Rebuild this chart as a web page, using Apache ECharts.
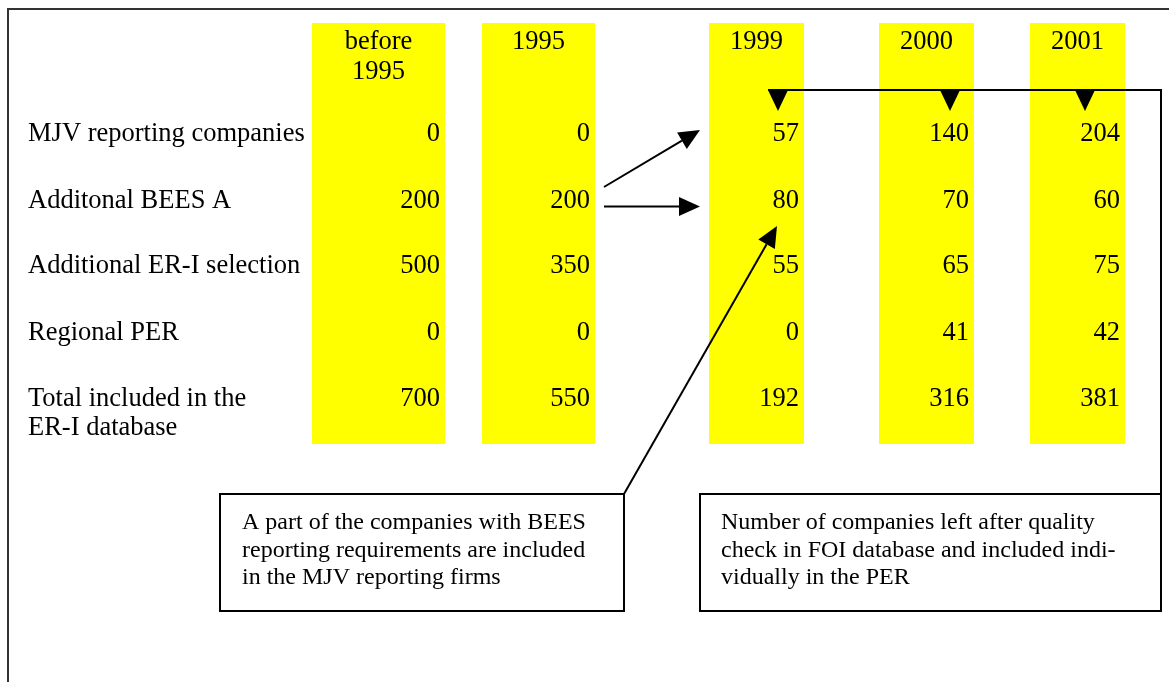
<!DOCTYPE html>
<html>
<head>
<meta charset="utf-8">
<script src="https://cdn.jsdelivr.net/npm/echarts@6/dist/echarts.min.js"></script>
<style>
html,body{margin:0;padding:0;background:#fff;}
#chart{width:1169px;height:682px;}
</style>
</head>
<body>
<div id="chart"></div>
<script>
// ---- data ----
const columns = ['before\n1995', '1995', '1999', '2000', '2001'];
const rowLabels = ['MJV reporting companies', 'Additonal BEES A', 'Additional ER-I selection', 'Regional PER', 'Total included in the\nER-I database'];
const mjvReporting = [0, 0, 57, 140, 204];
const additionalBeesA = [200, 200, 80, 70, 60];
const additionalErSelection = [500, 350, 55, 65, 75];
const regionalPer = [0, 0, 0, 41, 42];
const totalIncluded = [700, 550, 192, 316, 381];
const noteLeft = 'A part of the companies with BEES\nreporting requirements are included\nin the MJV reporting firms';
const noteRight = 'Number of companies left after quality\ncheck in FOI database and included indi-\nvidually in the PER';

// ---- layout (pixel-space scale of the hidden axes) ----
const L = {
  colLeft: [312, 482, 709, 879, 1030],
  colRight: [445, 595, 804, 974, 1125],
  bandTop: 23, bandBottom: 444,
  headerTop: 27, headerLH: 30,
  rowY: [134, 201, 266, 333, 399],
  rowLH: 29,
  labelX: 28,
  valueInset: 5
};
const FONT = "'Liberation Serif','Times New Roman',serif";
const MAIN = '26.5px ' + FONT;
const rows = [mjvReporting, additionalBeesA, additionalErSelection, regionalPer, totalIncluded];

const cellData = [];
rows.forEach((vals, r) => vals.forEach((v, c) => cellData.push([c, r, v])));

const chart = echarts.init(document.getElementById('chart'), null, {renderer: 'canvas'});

function arrowHead(x1, y1, x2, y2, len, half) {
  const dx = x2 - x1, dy = y2 - y1, d = Math.sqrt(dx * dx + dy * dy);
  const ux = dx / d, uy = dy / d;
  const bx = x2 - ux * len, by = y2 - uy * len;
  return [[x2, y2], [bx - uy * half, by + ux * half], [bx + uy * half, by - ux * half]];
}
function arrow(x1, y1, x2, y2) {
  const head = arrowHead(x1, y1, x2, y2, 21, 9.5);
  const mx = (head[1][0] + head[2][0]) / 2, my = (head[1][1] + head[2][1]) / 2;
  return [
    {type: 'line', shape: {x1: x1, y1: y1, x2: mx, y2: my}, style: {stroke: '#000', lineWidth: 2}, z: 10},
    {type: 'polygon', shape: {points: head}, style: {fill: '#000'}, z: 10}
  ];
}
function downHead(cx) {
  return {type: 'polygon', shape: {points: [[cx - 10, 90], [cx + 10, 90], [cx, 111]]}, style: {fill: '#000'}, z: 10};
}

const graphics = [
  // outer frame (top + left)
  {type: 'polyline', shape: {points: [[8, 683], [8, 9], [1170, 9]]}, style: {stroke: '#333', lineWidth: 2, fill: null}, z: 5},
  // callout boxes
  {type: 'rect', shape: {x: 220, y: 494, width: 404, height: 117}, style: {fill: '#fff', stroke: '#000', lineWidth: 2}, z: 5},
  {type: 'text', x: 242, y: 509, style: {text: noteLeft, font: '24px ' + FONT, fill: '#000', lineHeight: 27.5, verticalAlign: 'top'}, z: 6},
  {type: 'rect', shape: {x: 700, y: 494, width: 461, height: 117}, style: {fill: '#fff', stroke: '#000', lineWidth: 2}, z: 5},
  {type: 'text', x: 721, y: 509, style: {text: noteRight, font: '24px ' + FONT, fill: '#000', lineHeight: 27.5, verticalAlign: 'top'}, z: 6},
  // connector from right callout
  {type: 'polyline', shape: {points: [[1161, 494], [1161, 90], [768, 90]]}, style: {stroke: '#000', lineWidth: 2, fill: null}, z: 10},
  downHead(778), downHead(950), downHead(1085)
].concat(arrow(604, 187, 700, 130), arrow(604, 206.5, 700, 206.5), arrow(624, 494, 777, 226));

chart.setOption({
  animation: false,
  backgroundColor: '#fff',
  grid: {left: 0, right: 0, top: 0, bottom: 0, containLabel: false},
  xAxis: {type: 'value', min: 0, max: 1169, show: false},
  yAxis: {type: 'value', min: 0, max: 682, inverse: true, show: false},
  graphic: graphics,
  series: [
    {
      type: 'custom', z: 1,
      data: columns.map((c, i) => [i]),
      renderItem: function (params, api) {
        const i = api.value(0);
        const p1 = api.coord([L.colLeft[i], L.bandTop]);
        const p2 = api.coord([L.colRight[i], L.bandBottom]);
        const h = api.coord([(L.colLeft[i] + L.colRight[i]) / 2, L.headerTop]);
        return {type: 'group', children: [
          {type: 'rect', shape: {x: p1[0], y: p1[1], width: p2[0] - p1[0], height: p2[1] - p1[1]}, style: {fill: '#FFFF00'}},
          {type: 'text', x: h[0], y: h[1], style: {text: columns[i], font: MAIN, fill: '#000', align: 'center', verticalAlign: 'top', lineHeight: L.headerLH}}
        ]};
      }
    },
    {
      type: 'custom', z: 2,
      data: rowLabels.map((r, i) => [i]),
      renderItem: function (params, api) {
        const r = api.value(0);
        const multi = rowLabels[r].indexOf('\n') >= 0;
        const p = api.coord([L.labelX, multi ? L.rowY[r] - L.rowLH / 2 : L.rowY[r]]);
        return {type: 'text', x: p[0], y: p[1], style: {text: rowLabels[r], font: MAIN, fill: '#000', align: 'left', verticalAlign: multi ? 'top' : 'middle', lineHeight: L.rowLH}};
      }
    },
    {
      type: 'custom', z: 3,
      data: cellData,
      renderItem: function (params, api) {
        const c = api.value(0), r = api.value(1), v = api.value(2);
        const p = api.coord([L.colRight[c] - L.valueInset, L.rowY[r]]);
        return {type: 'text', x: p[0], y: p[1], style: {text: String(v), font: MAIN, fill: '#000', align: 'right', verticalAlign: 'middle'}};
      }
    }
  ]
});
</script>
</body>
</html>
